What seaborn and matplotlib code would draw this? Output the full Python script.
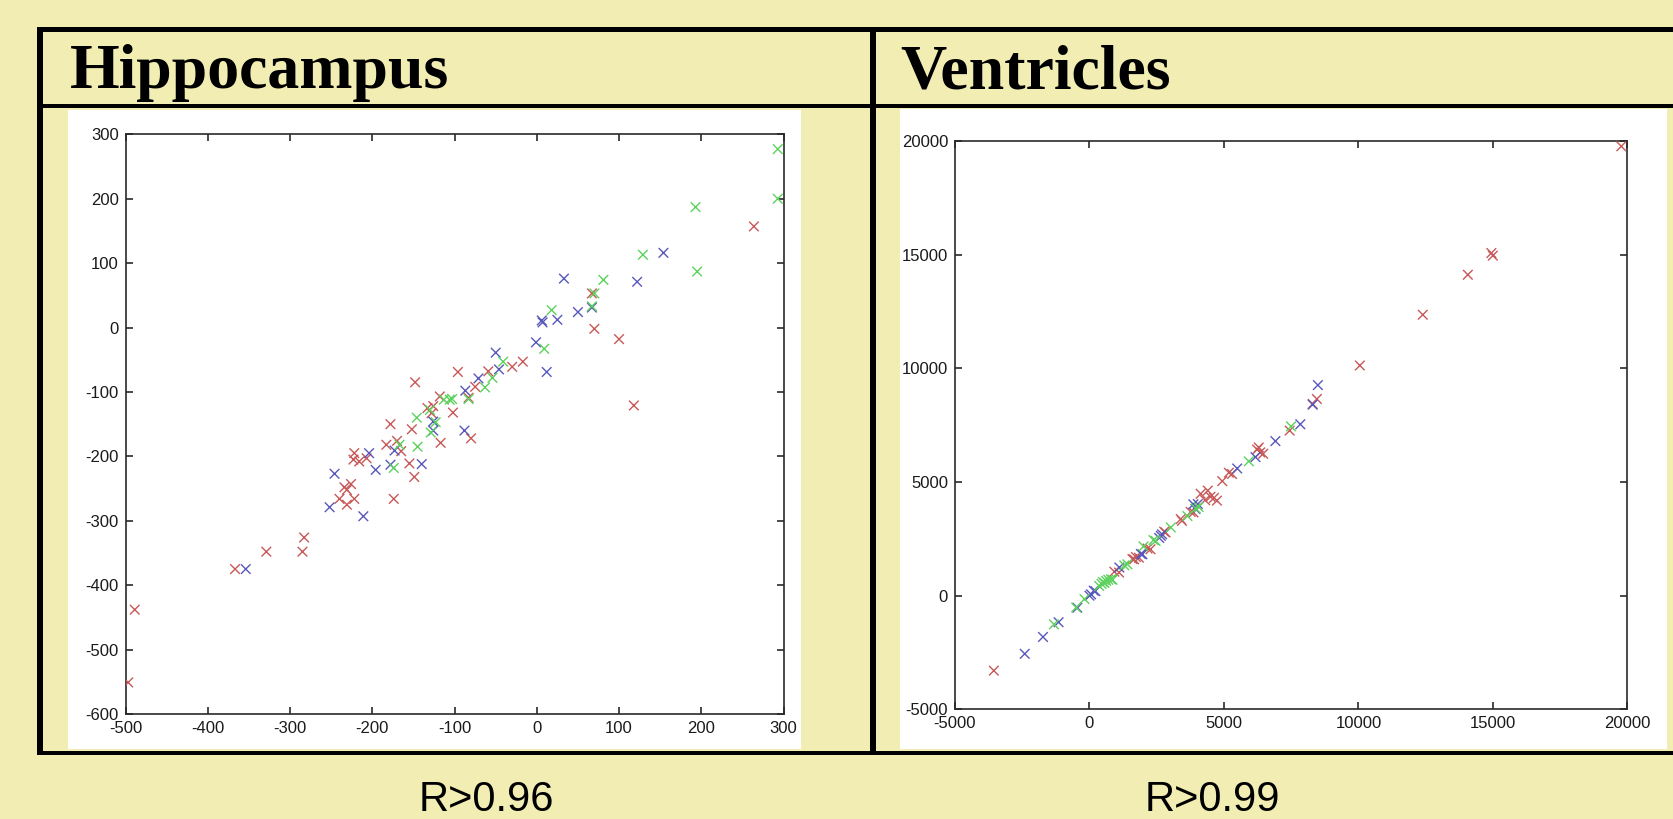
import matplotlib
matplotlib.use("Agg")
import matplotlib.pyplot as plt
from matplotlib.patches import Rectangle
import numpy as np
import pandas as pd
import seaborn as sns

# ---------------- data ----------------
panel_titles = ["Hippocampus", "Ventricles"]
r_labels = ["R>0.96", "R>0.99"]

hippo_red_x = [-497, -489, -367, -329, -285, -283, -240, -234, -231, -231, -226, -222, -223, -222,
               -216, -207, -183, -178, -174, -170, -165, -155, -152, -149, -148, -133, -128, -126,
               -118, -117, -102, -96, -83, -80, -75, -59, -30, -17, 67, 70, 100, 118, 264]
hippo_red_y = [-551, -438, -375, -348, -348, -326, -266, -248, -252, -275, -243, -266, -205, -195,
               -208, -203, -182, -150, -266, -176, -192, -211, -158, -232, -85, -125, -133, -122,
               -107, -179, -132, -69, -109, -172, -92, -68, -61, -53, 53, -2, -18, -121, 157]

hippo_blue_x = [-354, -252, -246, -211, -204, -196, -178, -173, -140, -126, -126, -88, -87, -71,
                -50, -46, -1, 6, 7, 12, 25, 33, 50, 67, 122, 154]
hippo_blue_y = [-375, -279, -227, -293, -195, -221, -213, -191, -212, -146, -160, -160, -98, -79,
                -39, -65, -23, 11, 8, -69, 12, 76, 24, 31, 71, 116]

hippo_green_x = [-174, -167, -146, -145, -130, -129, -123, -113, -106, -103, -83, -63, -54, -41,
                 9, 18, 67, 70, 81, 129, 193, 195, 293, 293]
hippo_green_y = [-218, -182, -140, -185, -128, -163, -147, -112, -112, -111, -111, -93, -78, -53,
                 -33, 27, 33, 53, 74, 113, 187, 87, 277, 200]

vent_red_x = [-3556, 925, 1100, 1600, 1660, 1728, 1840, 2160, 2270, 2778, 2830, 3395, 3440, 3765,
              3870, 4135, 4300, 4400, 4500, 4630, 4740, 4938, 5185, 5300, 6235, 6296, 6350, 6460,
              7444, 8457, 8300, 10055, 12395, 14070, 14945, 15000, 19777]
vent_red_y = [-3296, 1055, 1020, 1611, 1600, 1700, 1670, 2074, 2040, 2815, 2780, 3370, 3290, 3685,
              3660, 4481, 4200, 4620, 4350, 4300, 4180, 5037, 5407, 5350, 6426, 6518, 6300, 6240,
              7259, 8648, 8430, 10122, 12352, 14111, 15066, 14950, 19759]

vent_blue_x = [-2407, -1728, -1148, -450, 0, 60, 160, 220, 1111, 1914, 1970, 2593, 2654, 2700,
               3864, 3940, 4030, 5494, 6173, 6914, 7840, 8300, 8494]
vent_blue_y = [-2556, -1815, -1167, -530, 0, 60, 220, 200, 1240, 1833, 1820, 2537, 2630, 2700,
               4018, 3810, 4030, 5593, 6093, 6796, 7537, 8400, 9259]

vent_green_x = [-1321, -494, -185, 360, 450, 500, 560, 620, 700, 800, 860, 1296, 1410, 2012, 2383,
                2460, 3025, 3642, 3950, 4060, 5926, 7494]
vent_green_y = [-1259, -519, -148, 430, 520, 600, 560, 650, 700, 720, 700, 1333, 1380, 2166, 2444,
                2410, 3000, 3500, 3833, 3900, 5907, 7444]

hippo_xticks = [-500, -400, -300, -200, -100, 0, 100, 200, 300]
hippo_yticks = [-600, -500, -400, -300, -200, -100, 0, 100, 200, 300]
vent_ticks = [-5000, 0, 5000, 10000, 15000, 20000]


def make_df(rx, ry, bx, by, gx, gy):
    return pd.DataFrame({
        "x": rx + bx + gx,
        "y": ry + by + gy,
        "group": ["red"] * len(rx) + ["blue"] * len(bx) + ["green"] * len(gx),
    })


hippo_df = make_df(hippo_red_x, hippo_red_y, hippo_blue_x, hippo_blue_y, hippo_green_x, hippo_green_y)
vent_df = make_df(vent_red_x, vent_red_y, vent_blue_x, vent_blue_y, vent_green_x, vent_green_y)

palette = {"red": "#C85858", "blue": "#5858BC", "green": "#5CD25C"}

# ---------------- figure ----------------
sns.set_style("ticks")
plt.rcParams["font.family"] = ["Liberation Sans", "DejaVu Sans"]
plt.rcParams["axes.unicode_minus"] = False

W, H = 1674, 819
BG = "#F2EEB3"
fig = plt.figure(figsize=(W / 100, H / 100), dpi=100, facecolor=BG)


def px_rect(x0, y0, x1, y1, color, z=0):
    fig.patches.append(Rectangle((x0 / W, 1 - y1 / H), (x1 - x0) / W, (y1 - y0) / H,
                                 transform=fig.transFigure, facecolor=color,
                                 edgecolor="none", zorder=z))


def px_axes(x0, y0, x1, y1):
    a = fig.add_axes([x0 / W, 1 - y1 / H, (x1 - x0) / W, (y1 - y0) / H])
    a.set_zorder(5)
    return a


# white image areas
px_rect(68, 110, 801, 749, "white", -2)
px_rect(900, 109, 1667, 749, "white", -2)

# frame lines
px_rect(37, 27, 1674, 32, "black", -1)
px_rect(37, 104, 1674, 108, "black", -1)
px_rect(37, 751, 1674, 755, "black", -1)
px_rect(37, 27, 43, 755, "black", -1)
px_rect(870, 27, 876, 755, "black", -1)

ax1 = px_axes(125.7, 134.3, 783.5, 714)
ax2 = px_axes(955, 140.8, 1627.3, 709.4)

for ax, df, xt, yt in [(ax1, hippo_df, hippo_xticks, hippo_yticks),
                       (ax2, vent_df, vent_ticks, vent_ticks)]:
    sns.scatterplot(data=df, x="x", y="y", hue="group", palette=palette,
                    hue_order=["red", "blue", "green"], marker="x", s=48,
                    linewidth=1.0, legend=False, ax=ax, zorder=3)
    ax.set_xlim(xt[0], xt[-1])
    ax.set_ylim(yt[0], yt[-1])
    ax.set_xticks(xt)
    ax.set_yticks(yt)
    ax.set_xlabel("")
    ax.set_ylabel("")
    ax.set_facecolor("white")
    for sp in ax.spines.values():
        sp.set_visible(True)
        sp.set_color("#2a2a2a")
        sp.set_linewidth(1.2)
    ax.tick_params(direction="in", length=5, width=1.2, color="#2a2a2a",
                   top=True, right=True, labelsize=12, labelcolor="#1a1a1a", pad=5)
    ax.grid(False)

# titles
for xpos, title in zip([69.4, 900], panel_titles):
    fig.text(xpos / W, 1 - 88.3 / H, title, fontsize=46, fontweight="bold", color="black",
             family=["Liberation Serif", "DejaVu Serif"], va="baseline", ha="left")

# R labels
for xpos, lab in zip([486, 1212], r_labels):
    fig.text(xpos / W, 1 - 811 / H, lab, fontsize=30, color="black",
             va="baseline", ha="center")

fig.savefig("out.png", dpi=100, facecolor=BG)
